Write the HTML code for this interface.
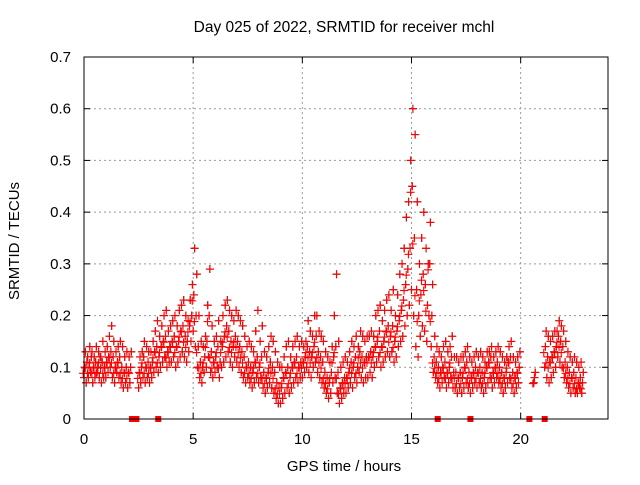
<!DOCTYPE html>
<html><head><meta charset="utf-8"><style>
body{margin:0;background:#fff}
svg text{font-family:"Liberation Sans",sans-serif;font-size:15px;fill:#000}
</style></head><body>
<svg width="640" height="480">
<text x="344" y="32" text-anchor="middle" style="font-size:15.5px">Day 025 of 2022, SRMTID for receiver mchl</text>
<text transform="translate(19,241) rotate(-90)" text-anchor="middle">SRMTID / TECUs</text>
<text x="344" y="471" text-anchor="middle">GPS time / hours</text>
<g id="grid"></g>
<g id="axes"></g>
<g id="marks"></g>
<rect x="84" y="57" width="524" height="362" fill="none" stroke="#000" stroke-width="1"/>
</svg>
<script>
const xTicks=[0,5,10,15,20];
const yTicks=[0,0.1,0.2,0.3,0.4,0.5,0.6,0.7];
const yTickLabels=["0","0.1","0.2","0.3","0.4","0.5","0.6","0.7"];
const N=null;
const lo=[.08,.07,.08,.09,.07,.08,.09,.08,.07,.08,
.08,.09,.1,.08,.07,.09,.08,.07,.06,.07,
.06,.07,N,N,N,.06,.07,.08,.07,.08,
.07,.08,.09,.1,.09,.1,.11,.12,.1,.11,
.11,.12,.1,.11,.12,.13,.12,.11,.13,.15,
.17,.14,.1,.08,.07,.09,.1,.12,.09,.08,
.09,.1,.08,.1,.11,.12,.13,.11,.1,.12,
.11,.1,.09,.08,.07,.08,.07,.06,.07,.08,
.07,.08,.06,.05,.06,.07,.06,.05,.04,.03,
.03,.04,.05,.06,.05,.06,.07,.08,.07,.08,
.08,.09,.1,.09,.08,.1,.11,.09,.08,.07,
.06,.05,.04,.05,.07,.08,.05,.03,.04,.05,
.05,.06,.07,.06,.08,.07,.09,.08,.07,.08,
.08,.09,.08,.1,.11,.12,.1,.11,.12,.13,
.12,.13,.11,.12,.14,.15,.16,.18,.2,.22,
.25,.2,.14,.12,.16,.18,.17,.15,.2,.14,
.09,.08,.07,.06,.07,.08,.06,.07,.08,.06,
.06,.05,.06,.05,.06,.07,.06,.05,.06,.07,
.06,.07,.06,.05,.06,.07,.08,.06,.07,.08,
.07,.06,.05,.06,.07,.08,.06,.05,.06,.07,
N,N,N,N,N,N,.07,N,N,N,
N,.1,.08,.07,.08,.09,.1,.12,.11,.1,
.08,.07,.06,.05,.06,.05,.05,.06,.05];
const mid=[.1,.11,.1,.12,.1,.11,.1,.12,.11,.1,
.11,.12,.13,.12,.1,.11,.12,.1,.09,.1,
.09,.1,N,N,N,.09,.1,.12,.1,.11,
.1,.11,.13,.14,.12,.14,.15,.16,.13,.14,
.15,.16,.14,.15,.17,.18,.16,.15,.18,.2,
.24,.2,.14,.11,.1,.12,.15,.2,.13,.11,
.12,.14,.11,.14,.16,.18,.17,.15,.14,.16,
.15,.14,.13,.12,.1,.11,.1,.09,.11,.12,
.1,.12,.09,.08,.09,.11,.1,.09,.07,.06,
.06,.08,.09,.1,.08,.1,.11,.12,.1,.11,
.11,.12,.14,.13,.12,.14,.16,.13,.12,.11,
.09,.08,.07,.09,.12,.14,.09,.06,.07,.08,
.08,.09,.11,.1,.12,.1,.13,.12,.11,.12,
.12,.13,.12,.14,.15,.17,.14,.15,.17,.18,
.16,.18,.15,.17,.19,.21,.23,.26,.29,.33,
.45,.35,.25,.2,.24,.28,.26,.22,.3,.2,
.12,.11,.1,.09,.1,.11,.09,.1,.12,.09,
.09,.08,.09,.08,.1,.11,.09,.08,.09,.1,
.09,.1,.09,.08,.1,.11,.12,.09,.1,.11,
.1,.09,.08,.09,.11,.12,.09,.08,.09,.1,
N,N,N,N,N,N,.08,N,N,N,
N,.14,.12,.11,.12,.13,.14,.16,.15,.14,
.11,.1,.09,.08,.09,.08,.07,.08,.07];
const hi=[.13,.12,.14,.13,.12,.14,.13,.12,.15,.13,
.14,.16,.18,.15,.13,.14,.15,.14,.12,.13,
.12,.13,N,N,N,.12,.13,.15,.14,.13,
.13,.15,.17,.19,.16,.18,.2,.21,.17,.18,
.19,.2,.18,.21,.22,.23,.2,.19,.23,.26,
.33,.28,.2,.15,.14,.16,.22,.29,.18,.15,
.16,.19,.15,.2,.22,.23,.21,.2,.19,.21,
.2,.19,.18,.16,.14,.15,.14,.13,.17,.21,
.15,.18,.13,.12,.14,.16,.15,.13,.11,.1,
.1,.12,.14,.15,.12,.14,.15,.16,.14,.15,
.14,.15,.19,.17,.16,.2,.2,.17,.16,.15,
.13,.12,.11,.14,.2,.28,.15,.1,.11,.12,
.11,.13,.15,.14,.16,.14,.17,.16,.15,.16,
.16,.17,.16,.2,.21,.22,.19,.21,.23,.24,
.21,.25,.2,.24,.28,.3,.33,.39,.42,.5,
.6,.55,.42,.3,.35,.4,.33,.3,.38,.26,
.16,.14,.13,.12,.14,.15,.13,.14,.16,.12,
.12,.11,.12,.12,.13,.14,.12,.11,.12,.13,
.12,.13,.12,.11,.13,.13,.14,.12,.13,.14,
.13,.12,.11,.12,.14,.15,.12,.11,.12,.13,
N,N,N,N,N,N,.09,N,N,N,
N,.17,.16,.15,.16,.17,.17,.19,.18,.17,
.15,.13,.12,.11,.12,.11,.1,.11,.09];
const zeroTimes=[2.2,2.4,3.4,16.2,17.7,20.4,21.1];
const X0=84,X1=608,Y0=419,Y1=57;
const xs=t=>X0+t/24*(X1-X0);
const ys=v=>Y0-v/0.7*(Y0-Y1);
const NS="http://www.w3.org/2000/svg";
function mk(tag,attrs,parent){const e=document.createElementNS(NS,tag);for(const k in attrs)e.setAttribute(k,attrs[k]);parent.appendChild(e);return e;}
const grid=document.getElementById('grid'),axes=document.getElementById('axes'),marks=document.getElementById('marks');
xTicks.forEach(t=>{const x=xs(t);
 if(t>0){const g=mk('line',{x1:x,x2:x,y1:Y1,y2:Y0,stroke:'#999','stroke-dasharray':'2,3'},grid);}
 mk('line',{x1:x,x2:x,y1:Y0,y2:Y0-6,stroke:'#000'},axes);mk('line',{x1:x,x2:x,y1:Y1,y2:Y1+6,stroke:'#000'},axes);
 const l=mk('text',{x:x,y:Y0+25,'text-anchor':'middle'},axes);l.textContent=String(t);
 });
yTicks.forEach((v,i)=>{const y=ys(v);
 if(v>0&&v<0.7){const g=mk('line',{x1:X0,x2:X1,y1:y,y2:y,stroke:'#999','stroke-dasharray':'2,3'},grid);}
 mk('line',{x1:X0,x2:X0+6,y1:y,y2:y,stroke:'#000'},axes);mk('line',{x1:X1,x2:X1-6,y1:y,y2:y,stroke:'#000'},axes);
 const l=mk('text',{x:X0-13,y:y+5,'text-anchor':'end'},axes);l.textContent=yTickLabels[i];
 });
function cross(t,v,col,dx,dy){const x=xs(t)+dx,y=ys(v)+dy;
 const p=mk('path',{d:`M${x-4},${y}H${x+4}M${x},${y-4}V${y+4}`,stroke:col,'stroke-width':1.1,fill:'none'},marks);
 
 }
const series=[[lo,0],[mid,0.033],[hi,0.066]];
series.forEach(([arr,off])=>{arr.forEach((v,i)=>{if(v!==null)cross(i*0.1+off,v,'#333',0,0);});});
series.forEach(([arr,off])=>{arr.forEach((v,i)=>{if(v!==null)cross(i*0.1+off,v,'#f00',0,0);});});
mid.forEach((v,i)=>{if(v!==null)cross(i*0.1+0.05,v,'#f00',-2,6);});
zeroTimes.forEach(t=>{const r=mk('rect',{x:xs(t)-3,y:Y0-3,width:6,height:6,fill:'#f00'},marks);
 
 });
</script>
</body></html>
